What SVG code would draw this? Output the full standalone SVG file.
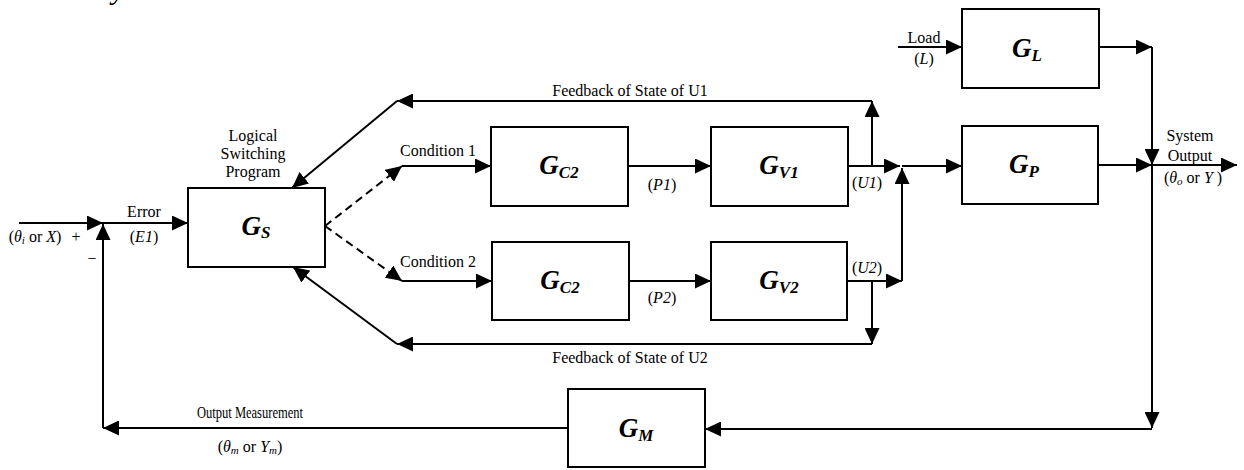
<svg xmlns="http://www.w3.org/2000/svg" width="1244" height="470" viewBox="0 0 1244 470">
  <style>
    .box { fill: #fff; stroke: #000; stroke-width: 2; }
    .ln { fill: none; stroke: #000; stroke-width: 2; }
    .dash { fill: none; stroke: #000; stroke-width: 2; stroke-dasharray: 8 5; }
    .arr { marker-end: url(#ah); }
    text { font-family: "Liberation Serif", "Times New Roman", serif; fill: #000; }
    .lbl { font-size: 16px; text-anchor: middle; }
    .it { font-style: italic; }
    .gname { font-size: 27px; font-weight: bold; font-style: italic; text-anchor: middle; }
    .gsub { font-size: 17px; }
    .small { font-size: 11px; }
  </style>
  <defs>
    <marker id="ah" markerUnits="userSpaceOnUse" viewBox="0 0 16 15" refX="16" refY="7.5" markerWidth="16" markerHeight="15" orient="auto">
      <path d="M0,0 L16,7.5 L0,15 z" fill="#000"/>
    </marker>
  </defs>

  <!-- descender of a glyph from the line above -->
  <text x="112" y="-1" font-size="30" font-style="italic">y</text>

  <!-- connectors -->
  <g id="connectors">
    <!-- reference input and summing junction -->
    <path class="ln arr" d="M19,223 L103,223"/>
    <path class="ln arr" d="M103,223 L188,223"/>
    <path class="ln arr" d="M103,428 L103,224"/>
    <!-- switching branches -->
    <path class="dash arr" d="M325,226 L402,166"/>
    <path class="dash arr" d="M325,226 L402,281"/>
    <path class="ln arr" d="M402,166 L491,166"/>
    <path class="ln arr" d="M402,281 L492,281"/>
    <path class="ln arr" d="M628,166 L711,166"/>
    <path class="ln arr" d="M629,281 L711,281"/>
    <!-- valve outputs -->
    <path class="ln arr" d="M848,166 L900,166"/>
    <path class="ln arr" d="M847,281 L902,281"/>
    <path class="ln arr" d="M902,281 L902,168"/>
    <path class="ln arr" d="M902,166 L962,166"/>
    <!-- state feedback U1 -->
    <path class="ln arr" d="M872,166 L872,101"/>
    <path class="ln arr" d="M872,101 L397,101"/>
    <path class="ln arr" d="M397,101 L292,188"/>
    <!-- state feedback U2 -->
    <path class="ln arr" d="M872,281 L872,344"/>
    <path class="ln arr" d="M872,344 L397,344"/>
    <path class="ln arr" d="M397,344 L293,267"/>
    <!-- load and plant outputs -->
    <path class="ln arr" d="M898,47 L962,47"/>
    <path class="ln arr" d="M1099,47 L1152,47"/>
    <path class="ln arr" d="M1152,47 L1152,165"/>
    <path class="ln arr" d="M1098,165 L1152,165"/>
    <path class="ln arr" d="M1152,165 L1237,165"/>
    <!-- measurement loop -->
    <path class="ln arr" d="M1152,165 L1152,428"/>
    <path class="ln arr" d="M1152,429 L705,429"/>
    <path class="ln arr" d="M568,428 L103,428"/>
  </g>

  <!-- blocks -->
  <g id="node-gs">
    <rect class="box" x="188" y="188" width="137" height="79"/>
    <text class="gname" x="256" y="235">G<tspan class="gsub" dy="3">S</tspan></text>
    <text class="lbl" x="253" y="141">Logical</text>
    <text class="lbl" x="253" y="159">Switching</text>
    <text class="lbl" x="253" y="177">Program</text>
  </g>
  <g id="node-gc2-1">
    <rect class="box" x="491" y="127" width="137" height="79"/>
    <text class="gname" x="559" y="174">G<tspan class="gsub" dy="4">C2</tspan></text>
  </g>
  <g id="node-gv1">
    <rect class="box" x="711" y="127" width="137" height="79"/>
    <text class="gname" x="779" y="174">G<tspan class="gsub" dy="4">V1</tspan></text>
  </g>
  <g id="node-gc2-2">
    <rect class="box" x="492" y="242" width="137" height="78"/>
    <text class="gname" x="560" y="289">G<tspan class="gsub" dy="4">C2</tspan></text>
  </g>
  <g id="node-gv2">
    <rect class="box" x="711" y="242" width="136" height="78"/>
    <text class="gname" x="779" y="289">G<tspan class="gsub" dy="4">V2</tspan></text>
  </g>
  <g id="node-gl">
    <rect class="box" x="962" y="9" width="137" height="79"/>
    <text class="gname" x="1027" y="57">G<tspan class="gsub" dy="4">L</tspan></text>
  </g>
  <g id="node-gp">
    <rect class="box" x="962" y="126" width="136" height="78"/>
    <text class="gname" x="1024" y="173">G<tspan class="gsub" dy="4">P</tspan></text>
  </g>
  <g id="node-gm">
    <rect class="box" x="568" y="389" width="137" height="78"/>
    <text class="gname" x="636" y="437">G<tspan class="gsub" dy="4">M</tspan></text>
  </g>

  <!-- signal labels -->
  <g id="labels">
    <text class="lbl" x="35" y="242">(<tspan class="it">θ<tspan class="small" dy="2">i</tspan></tspan><tspan dy="-2"> or </tspan><tspan class="it">X</tspan>)</text>
    <text class="lbl" x="76" y="242">+</text>
    <text class="lbl" x="92" y="264">−</text>
    <text class="lbl" x="144" y="217">Error</text>
    <text class="lbl" x="144" y="242">(<tspan class="it">E1</tspan>)</text>
    <text class="lbl" x="438" y="156">Condition 1</text>
    <text class="lbl" x="438" y="267">Condition 2</text>
    <text class="lbl" x="662" y="190">(<tspan class="it">P1</tspan>)</text>
    <text class="lbl" x="662" y="303">(<tspan class="it">P2</tspan>)</text>
    <text class="lbl" x="867" y="188">(<tspan class="it">U1</tspan>)</text>
    <text class="lbl" x="867" y="273">(<tspan class="it">U2</tspan>)</text>
    <text class="lbl" x="630" y="96">Feedback of State of U1</text>
    <text class="lbl" x="630" y="363">Feedback of State of U2</text>
    <text class="lbl" x="924" y="43">Load</text>
    <text class="lbl" x="924" y="64">(<tspan class="it">L</tspan>)</text>
    <text class="lbl" x="1190" y="141">System</text>
    <text class="lbl" x="1190" y="161">Output</text>
    <text class="lbl" x="1193" y="183">(<tspan class="it">θ<tspan class="small" dy="2">o</tspan></tspan><tspan dy="-2"> or </tspan><tspan class="it">Y</tspan> )</text>
    <text class="lbl" x="250" y="418" font-size="15" textLength="106" lengthAdjust="spacingAndGlyphs">Output Measurement</text>
    <text class="lbl" x="250" y="452" font-size="14">(<tspan class="it">θ<tspan class="small" font-size="10" dy="2">m</tspan></tspan><tspan dy="-2"> or </tspan><tspan class="it">Y<tspan class="small" font-size="10" dy="2">m</tspan></tspan><tspan dy="-2">)</tspan></text>
  </g>
</svg>
